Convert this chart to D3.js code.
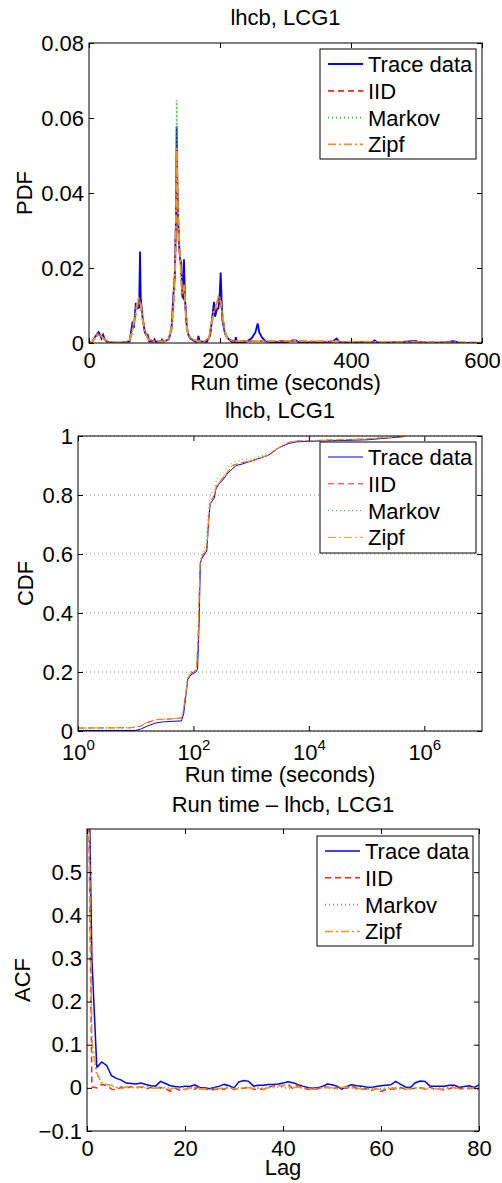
<!DOCTYPE html>
<html>
<head>
<meta charset="utf-8">
<script src="https://cdn.jsdelivr.net/npm/d3@7"></script>
<style>
body { margin: 0; background: #fff; }
svg text { font-family: "Liberation Sans", Arial, sans-serif; font-size: 22px; fill: #000; }
</style>
</head>
<body>
<svg width="502" height="1183"></svg>
<script>
var seriesNames = ["Trace data", "IID", "Markov", "Zipf"];
var colors = ["#0000ff", "#ee2a12", "#3cb043", "#f39422"];
var dashes = [null, "6,4", "1,3", "8,3,2,3"];

// PDF panel: [run time (s), density]
var pdfTrace = [[0,0],[5,0.0003],[10,0.0018],[14.5,0.0029],[17,0.0022],[19,0.0012],[21.5,0.0022],[23.5,0.0012],[27,0.0004],[35,0.0001],[50,0.0001],[62,0.0004],[66.5,0.0057],[68.5,0.004],[71.5,0.0107],[73.5,0.0092],[76.5,0.0095],[77.9,0.0244],[79,0.012],[82,0.0064],[85,0.003],[87,0.0022],[89.5,0.0022],[92,0.0004],[99,0.0003],[100,0.0009],[102,0.0003],[110,0.0004],[111.5,0.0009],[114,0.0003],[122,0.001],[126,0.004],[128.7,0.0124],[131,0.018],[133,0.035],[133.8,0.0577],[135,0.04],[137,0.0275],[139,0.0225],[141,0.0212],[142.5,0.0124],[144,0.012],[145,0.0223],[146.5,0.012],[149,0.005],[151,0.0025],[154,0.0013],[158,0.0008],[162,0.0004],[166,0.0004],[167,0.0019],[169,0.0004],[180,0.0003],[185,0.002],[190.8,0.011],[192.4,0.007],[195,0.0088],[197.6,0.0093],[199,0.011],[201,0.0188],[203.6,0.0061],[207.6,0.0025],[212,0.0012],[218,0.0003],[223,0.0002],[224,0.0016],[226,0.0002],[240,0.0003],[248,0.0012],[254,0.0028],[257.5,0.0052],[260,0.0028],[264,0.0015],[270,0.0004],[280,0.0002],[300,0.0002],[312,0.0007],[316,0.0007],[320,0.0002],[350,0.0001],[372,0.0004],[378,0.0012],[382,0.0003],[400,0.0001],[432,0.0002],[436,0.0007],[440,0.0002],[460,0.0001],[494,0.0005],[500,0.0005],[504,0.0001],[540,0.0001],[556,0.0005],[560,0.0004],[564,0.0001],[600,0]];
var pdfIID = [[0,0],[5,0.0004],[10,0.0015],[14,0.0024],[18,0.002],[22,0.0012],[27,0.0004],[35,0.0001],[55,0.0001],[62,0.0008],[66,0.003],[70,0.0065],[73,0.0095],[76,0.0115],[79,0.0105],[82,0.0065],[86,0.003],[90,0.001],[100,0.0004],[115,0.0004],[122,0.001],[126,0.004],[129,0.01],[131.5,0.02],[133,0.034],[134,0.05],[136,0.034],[138,0.025],[140,0.021],[142,0.013],[144,0.013],[145.5,0.016],[147,0.01],[150,0.003],[155,0.0012],[165,0.0006],[175,0.0004],[183,0.0012],[187,0.005],[190,0.008],[194,0.0095],[198,0.012],[201,0.011],[204,0.007],[207,0.0035],[211,0.0012],[220,0.0005],[260,0.0005],[310,0.0006],[330,0.0004],[400,0.0003],[500,0.0002],[600,0.0001]];
var pdfMarkov = [[0,0],[5,0.0004],[10,0.0014],[14,0.0023],[18,0.0019],[22,0.0011],[27,0.0004],[35,0.0001],[55,0.0001],[62,0.0009],[66,0.0035],[70,0.007],[73,0.0105],[75.5,0.0122],[79,0.01],[82,0.006],[86,0.0028],[90,0.001],[100,0.0004],[115,0.0004],[122,0.0012],[126,0.0045],[129,0.011],[131.5,0.021],[133,0.036],[133.9,0.0648],[135,0.04],[136.5,0.031],[138,0.026],[140,0.021],[142,0.014],[144,0.013],[145.5,0.015],[147,0.009],[150,0.003],[155,0.0011],[165,0.0006],[175,0.0004],[183,0.0013],[187,0.0055],[190,0.0085],[194,0.01],[198,0.0126],[201,0.011],[204,0.007],[207,0.0033],[211,0.0012],[220,0.0005],[260,0.0005],[300,0.0004],[400,0.0003],[500,0.0002],[600,0.0001]];
var pdfZipf = [[0,0],[5,0.0004],[10,0.0015],[14,0.0025],[18,0.002],[22,0.0012],[27,0.0004],[35,0.0001],[55,0.0001],[62,0.0008],[66,0.0032],[70,0.0068],[73,0.01],[75.8,0.0119],[79,0.0102],[82,0.0062],[86,0.0029],[90,0.001],[100,0.0004],[115,0.0004],[122,0.0011],[126,0.0042],[129,0.0105],[131.5,0.02],[133,0.035],[134,0.052],[135.5,0.036],[137.5,0.027],[139.5,0.022],[142,0.0135],[144,0.013],[145.5,0.0155],[147,0.0095],[150,0.003],[155,0.0012],[165,0.0006],[175,0.0004],[183,0.0012],[187,0.0052],[190,0.0082],[194,0.0098],[197.6,0.0124],[201,0.011],[204,0.0068],[207,0.0034],[211,0.0012],[220,0.0005],[260,0.0005],[320,0.0006],[380,0.0004],[440,0.0003],[500,0.0002],[600,0.0001]];
var pdfXTicks = [0, 200, 400, 600];
var pdfYTicks = [0, 0.02, 0.04, 0.06, 0.08];

// CDF panel: [run time (s), cumulative probability]
var cdfTrace = [[1,0.002],[10,0.002],[12,0.006],[16,0.017],[22,0.027],[30,0.031],[45,0.033],[62,0.034],[68,0.06],[74,0.12],[80,0.175],[90,0.19],[110,0.2],[118,0.21],[125,0.35],[132,0.57],[140,0.585],[170,0.61],[185,0.72],[195,0.77],[230,0.79],[245,0.82],[270,0.835],[320,0.85],[380,0.87],[450,0.885],[550,0.9],[700,0.905],[1000,0.915],[2000,0.935],[3000,0.96],[4500,0.975],[6000,0.98],[10000,0.982],[100000,0.987],[450000,0.998]];
var cdfIID = [[1,0.01],[8,0.011],[12,0.016],[16,0.028],[22,0.038],[35,0.04],[60,0.043],[66,0.06],[74,0.13],[80,0.18],[90,0.195],[112,0.205],[120,0.3],[130,0.56],[140,0.59],[170,0.615],[185,0.72],[195,0.775],[230,0.8],[250,0.83],[300,0.85],[380,0.875],[480,0.9],[700,0.91],[1000,0.915],[2000,0.935],[3000,0.96],[4500,0.978],[6000,0.983],[100000,0.99],[450000,0.999]];
var cdfMarkov = [[1,0.01],[8,0.011],[12,0.016],[16,0.029],[22,0.038],[35,0.041],[60,0.044],[66,0.065],[74,0.14],[80,0.185],[90,0.2],[112,0.21],[120,0.32],[130,0.58],[140,0.6],[165,0.63],[180,0.74],[195,0.8],[230,0.82],[250,0.85],[300,0.87],[380,0.89],[480,0.91],[700,0.92],[1000,0.922],[2000,0.94],[3000,0.962],[4500,0.978],[6000,0.983],[100000,0.99],[450000,0.999]];
var cdfZipf = [[1,0.01],[8,0.011],[12,0.017],[16,0.03],[22,0.039],[35,0.041],[60,0.044],[66,0.062],[74,0.13],[80,0.18],[90,0.196],[112,0.206],[120,0.3],[130,0.56],[140,0.592],[170,0.618],[185,0.725],[195,0.778],[230,0.8],[250,0.832],[300,0.852],[380,0.878],[480,0.902],[700,0.91],[1000,0.916],[2000,0.936],[3000,0.96],[4500,0.978],[6000,0.983],[100000,0.99],[450000,0.999]];
var cdfXTicks = [1, 100, 10000, 1000000];
var cdfYTicks = [0, 0.2, 0.4, 0.6, 0.8, 1];

// ACF panel: value at lag 0..80
var acfTrace = [1.0, 0.30, 0.047, 0.060, 0.052, 0.028, 0.022, 0.018, 0.011, 0.010,
  0.009, 0.011, 0.008, 0.005, 0.004, 0.015, 0.010, 0.005, 0.003, 0.002,
  0.004, 0.003, 0.007, 0.001, 0.000, -0.002, 0.001, 0.004, 0.008, 0.005,
  0.000, 0.014, 0.017, 0.015, 0.004, 0.006, 0.006, 0.008, 0.008, 0.009,
  0.011, 0.014, 0.012, 0.008, 0.004, 0.001, -0.001, 0.000, 0.003, 0.009,
  0.007, 0.004, -0.003, 0.003, 0.007, 0.005, 0.004, 0.002, 0.001, 0.003,
  0.005, 0.006, 0.007, 0.015, 0.008, 0.002, 0.001, 0.012, 0.016, 0.015,
  0.004, 0.004, 0.004, 0.004, 0.006, 0.006, 0.001, 0.003, 0.005, 0.001,
  0.007];
var acfIID = [1.0, 0.002, 0.000, 0.008, 0.006, -0.003, -0.005, 0.002, -0.001, 0.003,
  0.000, 0.002, -0.003, 0.001, 0.000, 0.001, -0.002, -0.008, -0.001, -0.006,
  -0.004, 0.000, -0.003, 0.004, -0.002, -0.005, -0.004, -0.003, -0.003, 0.002,
  -0.004, -0.002, -0.001, 0.002, -0.004, -0.002, -0.004, 0.002, 0.004, 0.006,
  0.005, 0.009, -0.002, 0.007, 0.000, -0.003, -0.004, -0.002, 0.002, 0.002,
  -0.001, 0.000, 0.002, -0.001, 0.006, -0.002, -0.004, -0.002, -0.006, -0.002,
  -0.008, -0.004, -0.003, -0.002, 0.001, -0.003, -0.002, -0.001, 0.000, -0.002,
  0.002, -0.004, -0.003, -0.005, -0.002, 0.004, -0.001, -0.003, -0.001, -0.002,
  -0.003];
var acfMarkov = [1.0, 0.09, 0.03, 0.012, 0.006, 0.004, 0.001, 0.003, 0.002, 0.000,
  0.001, 0.003, 0.000, -0.002, 0.001, -0.001, 0.002, 0.000, -0.002, 0.003,
  0.001, -0.001, 0.002, 0.000, -0.003, -0.001, 0.001, -0.002, 0.000, 0.002,
  -0.001, 0.000, -0.002, 0.001, 0.000, 0.002, -0.001, 0.001, 0.000, 0.002,
  0.001, -0.001, 0.000, 0.002, -0.001, 0.000, 0.001, -0.002, 0.000, 0.001,
  0.000, -0.001, 0.002, 0.000, -0.001, 0.001, 0.000, -0.002, 0.000, -0.001,
  -0.002, 0.000, 0.001, -0.001, 0.000, 0.001, -0.002, 0.000, 0.001, -0.001,
  0.000, -0.002, 0.000, 0.001, -0.001, 0.000, -0.002, -0.001, 0.000, -0.002,
  -0.003];
var acfZipf = [1.0, 0.11, 0.035, 0.010, 0.008, 0.006, 0.001, -0.002, 0.002, 0.003,
  0.001, 0.002, 0.004, 0.000, -0.001, 0.001, -0.002, -0.003, 0.000, -0.002,
  -0.003, -0.001, 0.001, -0.003, -0.002, -0.004, -0.003, -0.001, -0.002, 0.000,
  -0.002, -0.003, 0.000, 0.001, -0.002, -0.001, -0.003, 0.000, 0.002, 0.004,
  0.006, 0.003, 0.000, 0.002, -0.001, -0.002, -0.003, -0.001, 0.000, 0.001,
  0.000, -0.002, 0.001, 0.002, 0.000, -0.001, -0.002, -0.003, -0.004, -0.002,
  -0.004, -0.002, -0.001, 0.000, -0.002, -0.003, -0.002, 0.000, -0.001, -0.003,
  -0.002, -0.001, -0.003, -0.002, 0.001, 0.000, -0.002, -0.001, 0.000, -0.001,
  0.000];
var acfXTicks = [0, 20, 40, 60, 80];
var acfYTicks = [-0.1, 0, 0.1, 0.2, 0.3, 0.4, 0.5];

var svg = d3.select("svg");

function drawPanel(p) {
  var x = p.x, y = p.y;
  var x0 = x.range()[0], x1 = x.range()[1], y0 = y.range()[0], y1 = y.range()[1];
  var g = svg.append("g");

  // dotted y grid
  if (p.grid) {
    g.selectAll(".grid").data(p.yTicks).enter().append("line")
      .attr("x1", x0).attr("x2", x1)
      .attr("y1", function(d) { return y(d); }).attr("y2", function(d) { return y(d); })
      .attr("stroke", "#909090").attr("stroke-width", 1).attr("stroke-dasharray", "1,3");
  }

  var clipId = "clip" + p.id;
  svg.append("clipPath").attr("id", clipId).append("rect")
    .attr("x", x0).attr("y", y1).attr("width", x1 - x0).attr("height", y0 - y1);

  var line = d3.line().x(function(d) { return x(d[0]); }).y(function(d) { return y(d[1]); });
  g.append("g").attr("clip-path", "url(#" + clipId + ")")
    .selectAll("path").data(p.series).enter().append("path")
      .attr("d", line)
      .attr("fill", "none")
      .attr("stroke", function(d, i) { return colors[i]; })
      .attr("stroke-width", p.lw)
      .attr("stroke-dasharray", function(d, i) { return dashes[i]; });

  // axes, ticks pointing inward on all four sides
  var bottom = g.append("g").attr("transform", "translate(0," + y0 + ")")
    .call(d3.axisBottom(x).tickValues(p.xTicks).tickSize(-5).tickPadding(p.xPad).tickFormat(p.xFmt));
  g.append("g").attr("transform", "translate(0," + y1 + ")")
    .call(d3.axisTop(x).tickValues(p.xTicks).tickSize(-5).tickFormat(""));
  g.append("g").attr("transform", "translate(" + x0 + ",0)")
    .call(d3.axisLeft(y).tickValues(p.yTicks).tickSize(-5).tickPadding(5).tickFormat(p.yFmt));
  g.append("g").attr("transform", "translate(" + x1 + ",0)")
    .call(d3.axisRight(y).tickValues(p.yTicks).tickSize(-5).tickFormat(""));
  g.selectAll(".domain").remove();
  g.selectAll(".tick line").attr("stroke", "#000");
  g.append("rect").attr("x", x0).attr("y", y1).attr("width", x1 - x0).attr("height", y0 - y1)
    .attr("fill", "none").attr("stroke", "#000").attr("stroke-width", 1);

  if (p.log) {
    bottom.selectAll(".tick text").each(function(d) {
      var t = d3.select(this).text(null);
      t.append("tspan").text("10");
      t.append("tspan").attr("dy", "-0.62em").style("font-size", "15px").text(Math.round(Math.log10(d)));
    });
  }

  // titles and labels
  svg.append("text").attr("x", (x0 + x1) / 2).attr("y", p.titleY)
    .attr("text-anchor", "middle").text(p.title);
  svg.append("text").attr("x", (x0 + x1) / 2).attr("y", p.xLabelY)
    .attr("text-anchor", "middle").text(p.xLabel);
  svg.append("text")
    .attr("transform", "translate(" + p.yLabelX + "," + ((y0 + y1) / 2) + ") rotate(-90)")
    .attr("text-anchor", "middle").text(p.yLabel);

  // legend
  var L = p.legend;
  var lg = svg.append("g");
  lg.append("rect").attr("x", L.x).attr("y", L.y).attr("width", L.w).attr("height", L.h)
    .attr("fill", "#fff").attr("stroke", "#000").attr("stroke-width", 1);
  var item = lg.selectAll(".item").data(seriesNames).enter().append("g")
    .attr("transform", function(d, i) { return "translate(0," + (L.y + 15 + i * 26.8) + ")"; });
  item.append("line")
    .attr("x1", L.x + 8).attr("x2", L.x + 43).attr("y1", 0).attr("y2", 0)
    .attr("stroke", function(d, i) { return colors[i]; })
    .attr("stroke-width", p.lw)
    .attr("stroke-dasharray", function(d, i) { return dashes[i]; });
  item.append("text").attr("x", L.x + 48).attr("y", 8).text(function(d) { return d; });
}

function lagPairs(a) { return a.map(function(v, i) { return [i, v]; }); }

drawPanel({
  id: 1,
  x: d3.scaleLinear().domain([0, 600]).range([89, 482]),
  y: d3.scaleLinear().domain([0, 0.08]).range([343, 43]),
  series: [pdfTrace, pdfIID, pdfMarkov, pdfZipf],
  xTicks: pdfXTicks, yTicks: pdfYTicks, xPad: 9,
  xFmt: d3.format("d"), yFmt: function(d) { return d === 0 ? "0" : d3.format(".2f")(d); },
  lw: 1.8,
  title: "lhcb, LCG1", titleY: 25,
  xLabel: "Run time (seconds)", xLabelY: 390,
  yLabel: "PDF", yLabelX: 32,
  legend: {x: 320, y: 49, w: 156, h: 110}
});

drawPanel({
  id: 2,
  log: true,
  x: d3.scaleLog().domain([1, 1e7]).range([78, 482]),
  y: d3.scaleLinear().domain([0, 1]).range([731, 436]),
  series: [cdfTrace, cdfIID, cdfMarkov, cdfZipf],
  xTicks: cdfXTicks, yTicks: cdfYTicks, xPad: 13,
  xFmt: function(d) { return d; }, yFmt: function(d) { return d3.format("")(d); },
  lw: 1,
  grid: true,
  title: "lhcb, LCG1", titleY: 418,
  xLabel: "Run time (seconds)", xLabelY: 782,
  yLabel: "CDF", yLabelX: 33,
  legend: {x: 320, y: 442, w: 156, h: 111}
});

drawPanel({
  id: 3,
  x: d3.scaleLinear().domain([0, 80]).range([87, 479]),
  y: d3.scaleLinear().domain([-0.1, 0.6]).range([1131, 829]),
  series: [lagPairs(acfTrace), lagPairs(acfIID), lagPairs(acfMarkov), lagPairs(acfZipf)],
  xTicks: acfXTicks, yTicks: acfYTicks, xPad: 9,
  xFmt: d3.format("d"), yFmt: function(d) { return d === 0 ? "0" : d3.format(".1f")(d); },
  lw: 1.5,
  title: "Run time \u2013 lhcb, LCG1", titleY: 812,
  xLabel: "Lag", xLabelY: 1175,
  yLabel: "ACF", yLabelX: 30,
  legend: {x: 317, y: 836, w: 156, h: 110}
});
</script>
</body>
</html>
